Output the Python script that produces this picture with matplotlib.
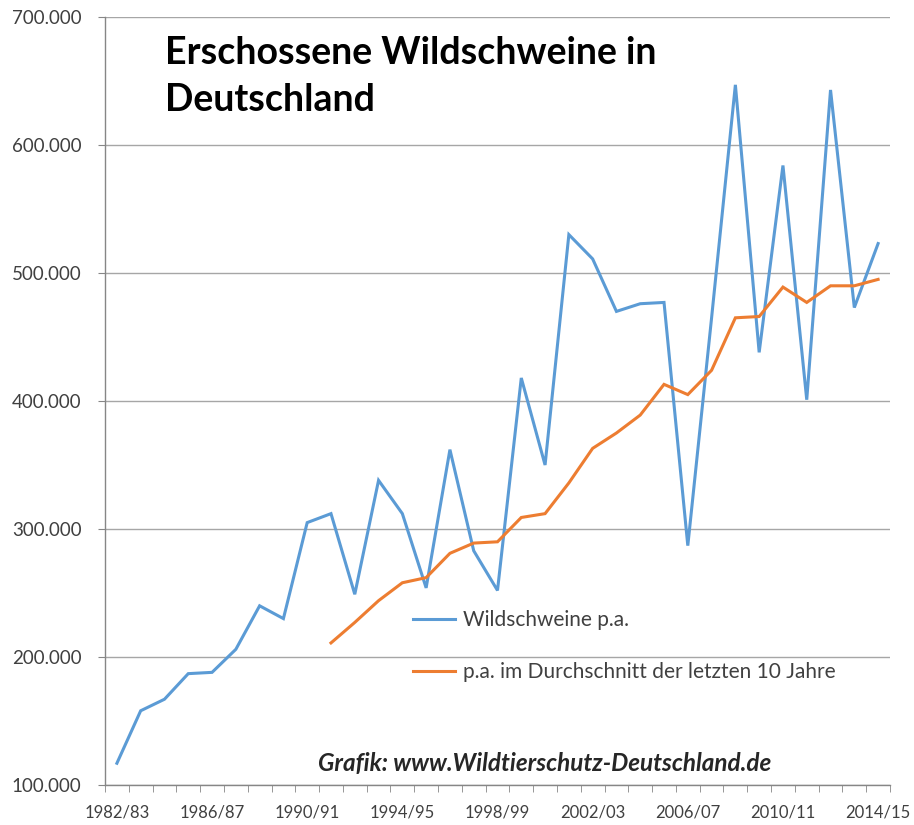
import matplotlib
matplotlib.use("Agg")
import matplotlib.pyplot as plt
from matplotlib.ticker import FuncFormatter, FixedLocator
import numpy as np

seasons = ["1982/83", "1983/84", "1984/85", "1985/86", "1986/87", "1987/88", "1988/89",
           "1989/90", "1990/91", "1991/92", "1992/93", "1993/94", "1994/95", "1995/96",
           "1996/97", "1997/98", "1998/99", "1999/00", "2000/01", "2001/02", "2002/03",
           "2003/04", "2004/05", "2005/06", "2006/07", "2007/08", "2008/09", "2009/10",
           "2010/11", "2011/12", "2012/13", "2013/14", "2014/15"]

wildschweine = [117000, 158000, 167000, 187000, 188000, 206000, 240000, 230000, 305000,
                312000, 249000, 338000, 312000, 254000, 362000, 283000, 252000, 418000,
                350000, 530000, 511000, 470000, 476000, 477000, 287000, 465000, 647000,
                438000, 584000, 401000, 643000, 473000, 523000]

avg_seasons = seasons[9:]
durchschnitt = [211000, 227000, 244000, 258000, 262000, 281000, 289000, 290000, 309000,
                312000, 336000, 363000, 375000, 389000, 413000, 405000, 424000, 465000,
                466000, 489000, 477000, 490000, 490000, 495000]

yticks = [100000, 200000, 300000, 400000, 500000, 600000, 700000]
label_step = 4

title = "Erschossene Wildschweine in\nDeutschland"
credit = "Grafik: www.Wildtierschutz-Deutschland.de"
legend_labels = ["Wildschweine p.a.", "p.a. im Durchschnitt der letzten 10 Jahre"]

plt.rcParams['font.family'] = ['Lato', 'DejaVu Sans']

fig = plt.figure(figsize=(9.14, 8.25), dpi=100)
ax = fig.add_axes([105/914, 1 - 785/825, (890 - 105)/914, (785 - 17)/825])

x_all = np.arange(len(seasons))
x_avg = np.array([seasons.index(s) for s in avg_seasons])

blue = "#5B9BD5"
orange = "#ED7D31"
l1, = ax.plot(x_all, wildschweine, color=blue, lw=2.2, solid_joinstyle='miter')
l2, = ax.plot(x_avg, durchschnitt, color=orange, lw=2.2, solid_joinstyle='miter')

ax.set_xlim(-0.5, len(seasons) - 0.5)
ax.set_ylim(yticks[0], yticks[-1])
ax.set_yticks(yticks)
ax.yaxis.set_major_formatter(FuncFormatter(lambda v, p: f"{int(v):,}".replace(",", ".")))
ax.grid(axis='y', color="#a6a6a6", lw=1.0)
ax.set_axisbelow(True)

ax.set_xticks(x_all[::label_step])
ax.set_xticklabels(seasons[::label_step])
ax.xaxis.set_minor_locator(FixedLocator(np.arange(-0.5, len(seasons), 1.0)))
ax.tick_params(axis='x', which='major', length=0, pad=14, labelsize=12, labelcolor="#404040")
ax.tick_params(axis='x', which='minor', length=5, color="#868686", direction='out')
ax.tick_params(axis='y', which='major', length=5, color="#868686", labelsize=13.5,
               labelcolor="#404040", pad=12)

for s in ['top', 'right']:
    ax.spines[s].set_visible(False)
for s in ['left', 'bottom']:
    ax.spines[s].set_color("#868686")
    ax.spines[s].set_linewidth(1.0)

fig.text(165/914, 1 - 36/825, title, fontsize=27, fontweight='bold', color="#000000",
         va='top', ha='left', linespacing=1.45)

fig.text(545/914, 1 - 763/825, credit, fontsize=17.5, fontweight='bold', fontstyle='italic',
         color="#262626", va='center', ha='center')

leg = fig.legend([l1, l2], legend_labels, loc='upper left',
                 bbox_to_anchor=(413/914, 1 - 610/825), frameon=False, fontsize=15,
                 handlelength=2.0, handletextpad=0.4, labelspacing=1.55,
                 borderpad=0, borderaxespad=0)
for t in leg.get_texts():
    t.set_color("#404040")

fig.savefig("out.png", dpi=100)
